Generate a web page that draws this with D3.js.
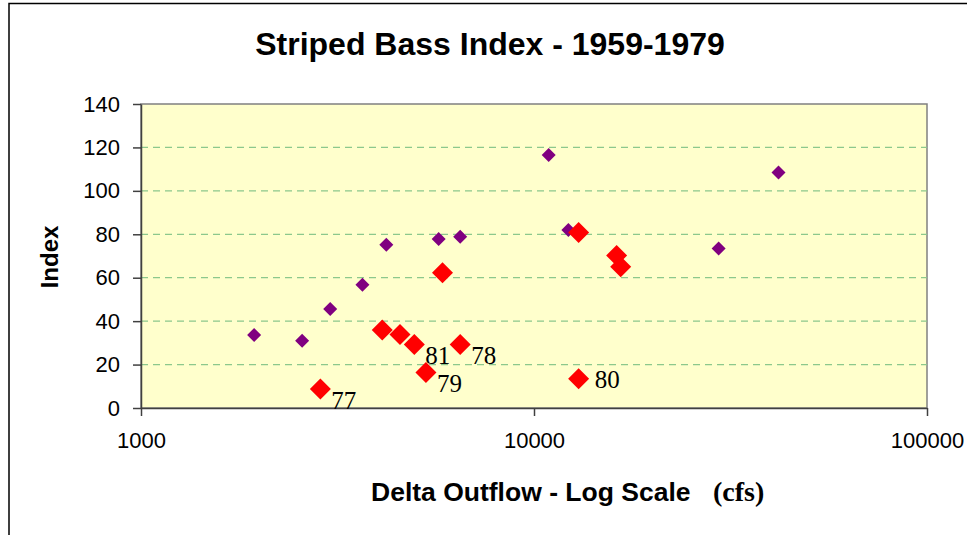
<!DOCTYPE html>
<meta charset="utf-8">
<head>
    <style>
body { margin: 0; background: #ffffff; }
svg { display: block; }
.axis text { font-family: "Liberation Sans", Arial, sans-serif; font-size: 22px; fill: #000; }
.axis path, .axis line { stroke: #404040; stroke-width: 1.5; }
.grid line { stroke: #8cc88c; stroke-width: 1.2; stroke-dasharray: 7,5; }
    </style>
</head>
<body>
<script src="https://cdnjs.cloudflare.com/ajax/libs/d3/7.8.5/d3.min.js"></script>
<script>
//------------------------1. DATA------------------------//
// earlier years (small purple diamonds)
var oldFlow  = [1940, 2570, 3030, 3660, 4210, 5720, 6490, 10900, 12230, 29500, 41900];
var oldIndex = [33.6, 31.0, 45.6, 56.8, 75.2, 77.8, 78.9, 116.5, 82.0, 73.4, 108.4];

// recent years (large red diamonds), some labelled with the year
var newFlow   = [2860, 4110, 4560, 4960, 5310, 5850, 6490, 12990, 16230, 16620, 12990];
var newIndex  = [8.8, 35.9, 33.9, 29.3, 16.4, 62.3, 29.3, 80.8, 70.2, 65.1, 13.5];
var newLabels = ["77", "", "", "81", "79", "", "78", "", "", "", "80"];
var labelSide = ["below", "", "", "below", "below", "", "below", "", "", "", "right"];

var yTicks = [0, 20, 40, 60, 80, 100, 120, 140];
var xTicks = [1000, 10000, 100000];

var title  = "Striped Bass Index - 1959-1979";
var xTitle = "Delta Outflow - Log Scale";
var xUnit  = "(cfs)";
var yTitle = "Index";

//------------------------2. PREPARATION------------------------//
var width = 967;
var height = 535;
var plot = {left: 141, top: 104, right: 927, bottom: 408};

var svg = d3.select("body").append("svg")
    .attr("width", width)
    .attr("height", height);

// outer chart border (runs off the right and bottom of the picture)
svg.append("rect")
    .attr("x", 9).attr("y", 3.5)
    .attr("width", 1000).attr("height", 600)
    .attr("fill", "#fff")
    .attr("stroke", "#000")
    .attr("stroke-width", 1.5);

var xScale = d3.scaleLog().domain([1000, 100000]).range([plot.left, plot.right]);
var yScale = d3.scaleLinear().domain([0, 140]).range([plot.bottom, plot.top]);

var oldPts = oldFlow.map(function(f, i) { return {flow: f, index: oldIndex[i]}; });
var newPts = newFlow.map(function(f, i) {
    return {flow: f, index: newIndex[i], label: newLabels[i], side: labelSide[i]};
});

//------------------------3. DRAWING------------------------//
// plot background
svg.append("rect")
    .attr("x", plot.left).attr("y", plot.top)
    .attr("width", plot.right - plot.left)
    .attr("height", plot.bottom - plot.top)
    .attr("fill", "#ffffcc")
    .attr("stroke", "#808080")
    .attr("stroke-width", 1.5);

// dashed gridlines
svg.append("g")
    .attr("class", "grid")
    .selectAll("line")
    .data(yTicks.filter(function(d) { return d > 0 && d < 140; }))
    .enter()
    .append("line")
    .attr("x1", plot.left).attr("x2", plot.right)
    .attr("y1", function(d) { return yScale(d); })
    .attr("y2", function(d) { return yScale(d); });

var yaxis = d3.axisLeft(yScale)
    .tickValues(yTicks)
    .tickSizeInner(8)
    .tickSizeOuter(0)
    .tickPadding(13);

var xaxis = d3.axisBottom(xScale)
    .tickValues(xTicks)
    .tickFormat(d3.format("d"))
    .tickSizeInner(8)
    .tickSizeOuter(0)
    .tickPadding(16);

svg.append("g")
    .attr("class", "axis")
    .attr("transform", "translate(" + plot.left + ",0)")
    .call(yaxis);

svg.append("g")
    .attr("class", "axis")
    .attr("transform", "translate(0," + plot.bottom + ")")
    .call(xaxis);

// markers
var diamond = function(r) {
    return "M0," + (-r) + "L" + r + ",0L0," + r + "L" + (-r) + ",0Z";
};

svg.append("g")
    .selectAll("path")
    .data(oldPts)
    .enter()
    .append("path")
    .attr("d", diamond(7))
    .attr("fill", "#800080")
    .attr("transform", function(d) {
        return "translate(" + xScale(d.flow) + "," + yScale(d.index) + ")"; });

svg.append("g")
    .selectAll("path")
    .data(newPts)
    .enter()
    .append("path")
    .attr("d", diamond(10.5))
    .attr("fill", "#ff0000")
    .attr("transform", function(d) {
        return "translate(" + xScale(d.flow) + "," + yScale(d.index) + ")"; });

// year labels
svg.append("g")
    .selectAll("text")
    .data(newPts.filter(function(d) { return d.label !== ""; }))
    .enter()
    .append("text")
    .attr("x", function(d) { return xScale(d.flow) + (d.side === "right" ? 16 : 11); })
    .attr("y", function(d) { return yScale(d.index) + (d.side === "right" ? 9 : 20); })
    .style("font-family", "'Liberation Serif', 'Times New Roman', serif")
    .style("font-size", "25px")
    .text(function(d) { return d.label; });

// titles
svg.append("text")
    .attr("x", 490).attr("y", 55)
    .attr("text-anchor", "middle")
    .style("font-family", "'Liberation Sans', Arial, sans-serif")
    .style("font-weight", "bold")
    .style("font-size", "32px")
    .text(title);

svg.append("text")
    .attr("transform", "translate(58,257) rotate(-90)")
    .attr("text-anchor", "middle")
    .style("font-family", "'Liberation Sans', Arial, sans-serif")
    .style("font-weight", "bold")
    .style("font-size", "24px")
    .text(yTitle);

var xt = svg.append("text")
    .attr("x", 371).attr("y", 501)
    .style("font-family", "'Liberation Sans', Arial, sans-serif")
    .style("font-weight", "bold")
    .style("font-size", "26.5px");
xt.append("tspan").text(xTitle);
xt.append("tspan")
    .attr("x", 713)
    .style("font-family", "'Liberation Serif', 'Times New Roman', serif")
    .style("font-size", "28px")
    .text(xUnit);
</script>
</body>
</html>
